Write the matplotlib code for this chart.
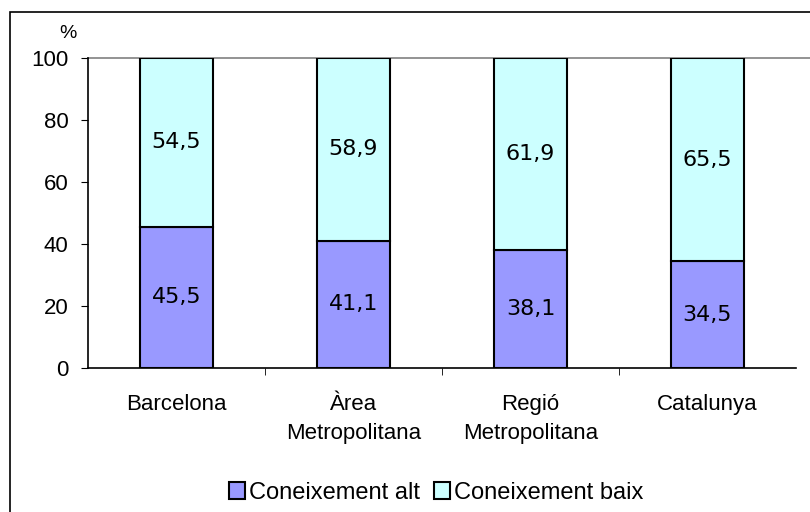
import matplotlib.pyplot as plt
from matplotlib.patches import Rectangle, Patch

categories = ['Barcelona', 'Àrea\nMetropolitana', 'Regió\nMetropolitana', 'Catalunya']
alt = [45.5, 41.1, 38.1, 34.5]
baix = [54.5, 58.9, 61.9, 65.5]
series_names = ['Coneixement alt', 'Coneixement baix']

plt.rcParams['font.family'] = ['Liberation Sans', 'DejaVu Sans']

fig = plt.figure(figsize=(8.1, 5.12), dpi=100)
ax = fig.add_axes([88 / 810, 1 - 368 / 512, 708 / 810, 310 / 512])

# Outer chart border (runs off the right and bottom edges).
fig.patches.append(Rectangle((10 / 810, -0.1), 1.2, 1 - 12 / 512 + 0.1,
                             transform=fig.transFigure, fill=False,
                             edgecolor='black', linewidth=1.2))

x = range(len(categories))
ax.bar(x, alt, width=0.41, color='#9999ff', edgecolor='black', linewidth=1.5)
ax.bar(x, baix, width=0.41, bottom=alt, color='#ccffff', edgecolor='black', linewidth=1.5)

for i in x:
    ax.text(i, alt[i] / 2, str(alt[i]).replace('.', ','), ha='center', va='center',
            fontsize=16, family='DejaVu Sans')
    ax.text(i, alt[i] + baix[i] / 2, str(baix[i]).replace('.', ','), ha='center',
            va='center', fontsize=16, family='DejaVu Sans')

ax.axhline(100, xmin=0, xmax=1.03, color='#808080', linewidth=1.2, zorder=0, clip_on=False)
ax.set_xlim(-0.5, 3.5)
ax.set_ylim(0, 100)
ax.set_yticks([0, 20, 40, 60, 80, 100])
ax.set_xticks(list(x))
ax.set_xticklabels(categories, fontsize=16, linespacing=1.45)
ax.set_xticks([0.5, 1.5, 2.5], minor=True)
ax.tick_params(axis='x', which='major', length=0, pad=19)
ax.tick_params(axis='x', which='minor', length=5, direction='out')
ax.tick_params(axis='y', length=5, labelsize=16, direction='out', pad=9)
for s in ['top', 'right']:
    ax.spines[s].set_visible(False)
ax.spines['left'].set_linewidth(1.2)
ax.spines['bottom'].set_linewidth(1.2)

fig.text(68 / 810, 1 - 33 / 512, '%', ha='center', va='center', fontsize=14)

handles = [Patch(facecolor='#9999ff', edgecolor='black', linewidth=1.5),
           Patch(facecolor='#ccffff', edgecolor='black', linewidth=1.5)]
fig.legend(handles, series_names, loc='center', bbox_to_anchor=(436 / 810, 1 - 493 / 512),
           ncol=2, frameon=False, fontsize=17, handlelength=0.7, handleheight=0.7,
           handletextpad=0.15, columnspacing=0.6)

fig.savefig('out.png', dpi=100)
